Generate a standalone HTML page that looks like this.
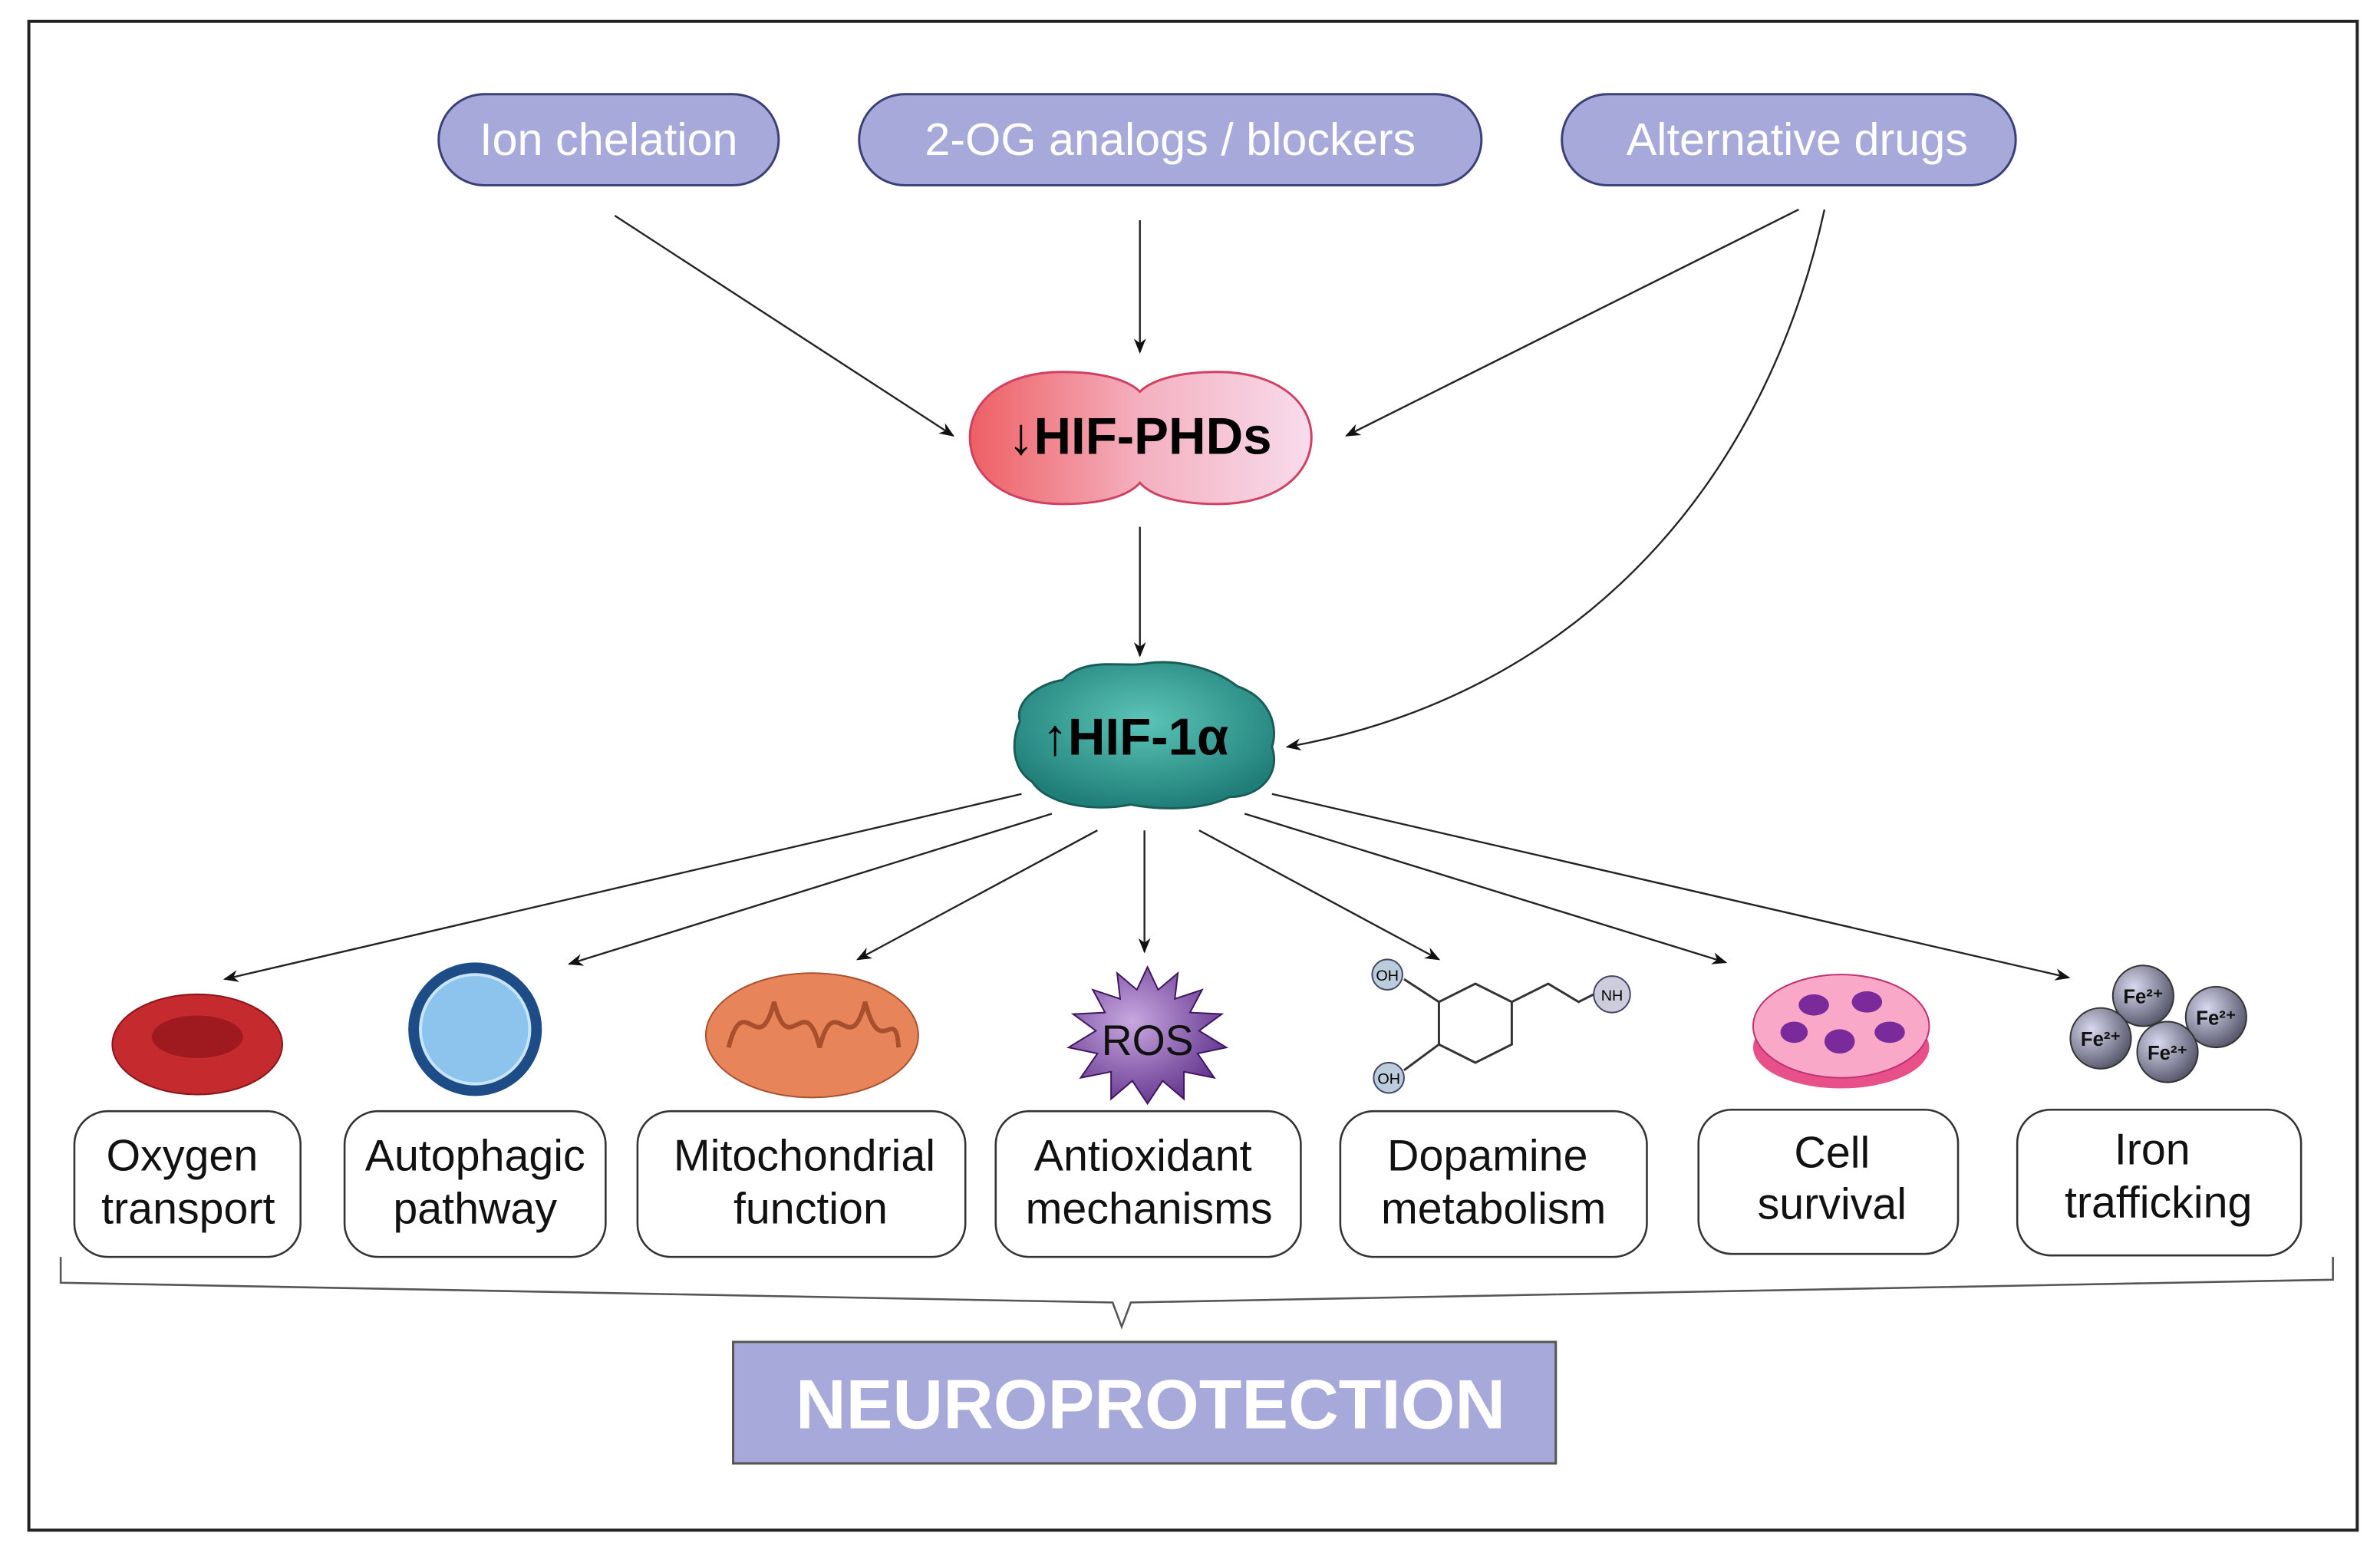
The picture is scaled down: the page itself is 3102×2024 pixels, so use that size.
<!DOCTYPE html>
<html><head><meta charset="utf-8"><style>html,body{margin:0;padding:0;background:#fff}svg{display:block}</style></head>
<body>
<svg width="3102" height="2024" viewBox="0 0 1568 1023" xmlns="http://www.w3.org/2000/svg" font-family="Liberation Sans, Arial, sans-serif">
<defs>
<marker id="a" markerWidth="10" markerHeight="8" refX="9" refY="4" orient="auto" markerUnits="userSpaceOnUse"><path d="M0,0 L10,4 L0,8 L3,4Z" fill="#111"/></marker>
<linearGradient id="phd" x1="0" x2="1"><stop offset="0" stop-color="#ee5f63"/><stop offset="0.5" stop-color="#f4b0c0"/><stop offset="1" stop-color="#f8dcec"/></linearGradient>
<radialGradient id="hif" cx="0.5" cy="0.4" r="0.6"><stop offset="0" stop-color="#5cc4b8"/><stop offset="1" stop-color="#1f7f78"/></radialGradient>
<radialGradient id="fe" cx="0.35" cy="0.35" r="0.7"><stop offset="0" stop-color="#d8d8ee"/><stop offset="1" stop-color="#55556a"/></radialGradient>
<radialGradient id="ros" cx="0.4" cy="0.4" r="0.7"><stop offset="0" stop-color="#c8a8e0"/><stop offset="1" stop-color="#5a2a86"/></radialGradient>
</defs>
<rect x="19" y="14" width="1534" height="994" fill="#fff" stroke="#222" stroke-width="2"/>
<g fill="#a6a9da" stroke="#3b3f78" stroke-width="1.5">
<rect x="289" y="62" width="224" height="60" rx="30"/>
<rect x="566" y="62" width="410" height="60" rx="30"/>
<rect x="1029" y="62" width="299" height="60" rx="30"/>
</g>
<g fill="#fff" font-size="30" text-anchor="middle">
<text x="401" y="102">Ion chelation</text>
<text x="771" y="102">2-OG analogs / blockers</text>
<text x="1184" y="102">Alternative drugs</text>
</g>
<g stroke="#222" stroke-width="1.2" fill="none" marker-end="url(#a)">
<line x1="405" y1="142" x2="628" y2="287"/>
<line x1="751" y1="145" x2="751" y2="232"/>
<line x1="1185" y1="138" x2="887" y2="287"/>
<path d="M1202,138 C1160,330 1030,460 848,492"/>
<line x1="751" y1="347" x2="751" y2="432"/>
<line x1="673" y1="523" x2="148" y2="645"/>
<line x1="693" y1="536" x2="375" y2="635"/>
<line x1="723" y1="547" x2="565" y2="632"/>
<line x1="754" y1="547" x2="754" y2="627"/>
<line x1="790" y1="547" x2="948" y2="632"/>
<line x1="820" y1="536" x2="1137" y2="634"/>
<line x1="838" y1="523" x2="1363" y2="644"/>
</g>
<path d="M700,245 C660,245 639,265 639,288 C639,312 660,332 700,332 C730,332 745,325 751,318 C757,325 772,332 802,332 C842,332 864,312 864,288 C864,265 842,245 802,245 C772,245 757,252 751,258 C745,252 730,245 700,245Z" fill="url(#phd)" stroke="#d04062" stroke-width="1.5"/>
<text x="751" y="299" font-size="34" font-weight="bold" text-anchor="middle">↓HIF-PHDs</text>
<path d="M700,448 C715,432 740,440 755,437 C775,434 800,440 815,452 C838,460 842,480 838,492 C844,510 830,525 810,525 C790,535 760,533 745,530 C720,535 690,530 680,515 C665,505 667,485 672,475 C668,462 685,450 700,448Z" fill="url(#hif)" stroke="#1a5d58" stroke-width="1.5"/>
<text x="748" y="497" font-size="34" font-weight="bold" text-anchor="middle">↑HIF-1α</text>
<!-- icons -->
<ellipse cx="130" cy="688" rx="56" ry="33" fill="#c42a2e" stroke="#8a1518"/>
<ellipse cx="130" cy="683" rx="30" ry="14" fill="#9e1a1e"/>
<circle cx="313" cy="678" r="44" fill="#1d4c86"/>
<circle cx="313" cy="678" r="36" fill="#8cc4ee" stroke="#c8e4f8" stroke-width="2"/>
<ellipse cx="535" cy="682" rx="70" ry="41" fill="#e8845a" stroke="#a8502e"/>
<path d="M480,690 C490,650 500,700 510,660 C520,700 530,650 540,690 C550,650 560,700 570,660 C580,700 590,660 592,690" fill="none" stroke="#a8502e" stroke-width="3"/>
<polygon points="756,637 763,652 776,641 774,658 792,652 784,667 805,668 790,679 808,690 789,694 800,710 780,706 780,724 766,712 756,727 746,712 732,724 732,706 712,710 723,694 704,690 722,679 707,668 728,667 720,652 738,658 736,641 749,652" fill="url(#ros)" stroke="#3e1560"/>
<text x="756" y="695" font-size="28" text-anchor="middle" fill="#111">ROS</text>
<g stroke="#333" stroke-width="1.5" fill="none">
<polygon points="948,660 972,648 996,660 996,688 972,700 948,688"/>
<line x1="948" y1="660" x2="925" y2="645"/><line x1="948" y1="688" x2="925" y2="705"/>
<polyline points="996,660 1020,648 1040,660 1050,655"/>
</g>
<circle cx="914" cy="642" r="10" fill="#bcd" stroke="#446"/><text x="914" y="646" font-size="10" text-anchor="middle">OH</text>
<circle cx="915" cy="710" r="10" fill="#bcd" stroke="#446"/><text x="915" y="714" font-size="10" text-anchor="middle">OH</text>
<circle cx="1062" cy="655" r="12" fill="#ccd" stroke="#446"/><text x="1062" y="659" font-size="10" text-anchor="middle">NH</text>
<ellipse cx="1213" cy="690" rx="58" ry="27" fill="#e8508a"/>
<ellipse cx="1213" cy="676" rx="58" ry="34" fill="#f9a8c8" stroke="#c03070"/>
<g fill="#7a2a9a"><ellipse cx="1195" cy="662" rx="10" ry="7"/><ellipse cx="1230" cy="660" rx="10" ry="7"/><ellipse cx="1182" cy="680" rx="9" ry="7"/><ellipse cx="1212" cy="686" rx="10" ry="8"/><ellipse cx="1245" cy="680" rx="10" ry="7"/></g>
<g stroke="#333"><circle cx="1412" cy="656" r="20" fill="url(#fe)"/><circle cx="1460" cy="670" r="20" fill="url(#fe)"/><circle cx="1384" cy="684" r="20" fill="url(#fe)"/><circle cx="1428" cy="693" r="20" fill="url(#fe)"/></g>
<g font-size="13" font-weight="bold" text-anchor="middle" fill="#111"><text x="1412" y="661">Fe²⁺</text><text x="1460" y="675">Fe²⁺</text><text x="1384" y="689">Fe²⁺</text><text x="1428" y="698">Fe²⁺</text></g>
<!-- boxes -->
<g fill="#fff" stroke="#333" stroke-width="1.3">
<rect x="49" y="732" width="149" height="96" rx="22"/>
<rect x="227" y="732" width="172" height="96" rx="22"/>
<rect x="420" y="732" width="216" height="96" rx="22"/>
<rect x="656" y="732" width="201" height="96" rx="22"/>
<rect x="883" y="732" width="202" height="96" rx="22"/>
<rect x="1119" y="731" width="171" height="95" rx="22"/>
<rect x="1329" y="731" width="187" height="96" rx="22"/>
</g>
<g font-size="29" text-anchor="middle" fill="#111">
<text x="120" y="771">Oxygen</text><text x="124" y="806">transport</text>
<text x="313" y="771">Autophagic</text><text x="313" y="806">pathway</text>
<text x="530" y="771">Mitochondrial</text><text x="534" y="806">function</text>
<text x="753" y="771">Antioxidant</text><text x="757" y="806">mechanisms</text>
<text x="980" y="771">Dopamine</text><text x="984" y="806">metabolism</text>
<text x="1207" y="769">Cell</text><text x="1207" y="803">survival</text>
<text x="1418" y="767">Iron</text><text x="1422" y="802">trafficking</text>
</g>
<polyline points="40,828 40,845 733,858 739,874 745,858 1537,843 1537,828" fill="none" stroke="#555" stroke-width="1.3"/>
<rect x="483" y="884" width="542" height="80" fill="#a6a9da" stroke="#555" stroke-width="1.5"/>
<text x="758" y="941" font-size="46" font-weight="bold" fill="#fff" text-anchor="middle">NEUROPROTECTION</text>
</svg>
</body></html>
